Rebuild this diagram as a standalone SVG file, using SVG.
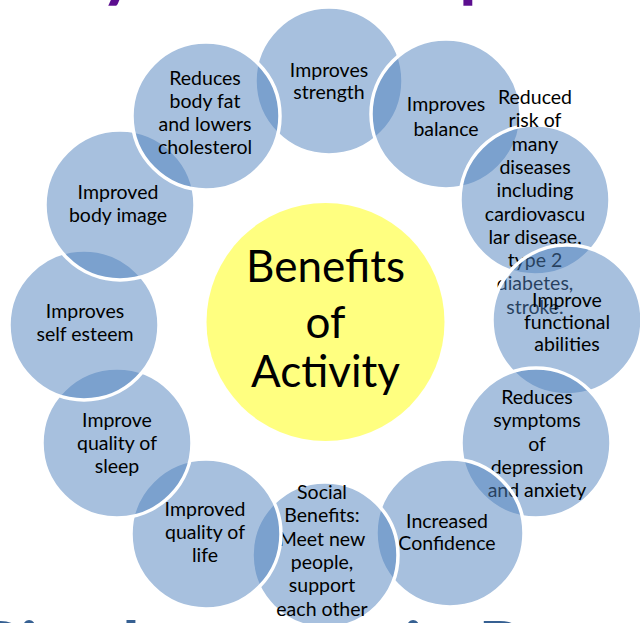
<svg xmlns="http://www.w3.org/2000/svg" width="640" height="623" viewBox="0 0 640 623">
<style>
.c{fill:#4F81BD;fill-opacity:0.5;stroke:#FFFFFF;stroke-width:3.5}
.t{font-family:Lato,"Liberation Sans",sans-serif;font-size:19.5px;fill:#000000;text-anchor:middle}
.hub{fill:#FFFF80}
.ht{font-family:Lato,"Liberation Sans",sans-serif;font-size:44px;fill:#000000;text-anchor:middle}
.top{font-family:Lato,"Liberation Sans",sans-serif;font-weight:bold;font-size:72px;fill:#5C0E8F}
.bot{font-family:Lato,"Liberation Sans",sans-serif;font-weight:bold;font-size:72px;fill:#366092}
</style>
<rect width="640" height="623" fill="#FFFFFF"/>
<text class="top"><tspan x="100" y="-7">y</tspan><tspan x="459" y="-7">p</tspan></text>
<g id="connectors"/>
<g id="n-strength"><circle class="c" cx="329" cy="81" r="74"/><text class="t"><tspan x="329" y="77">Improves</tspan><tspan x="329" y="99">strength</tspan></text></g>
<g id="n-balance"><circle class="c" cx="446" cy="114" r="75"/><text class="t"><tspan x="446" y="111">Improves</tspan><tspan x="446" y="136">balance</tspan></text></g>
<g id="n-risk"><circle class="c" cx="535" cy="200" r="75"/><text class="t"><tspan x="535" y="104">Reduced</tspan><tspan x="535" y="127.3">risk of</tspan><tspan x="535" y="150.6">many</tspan><tspan x="535" y="173.9">diseases</tspan><tspan x="535" y="197.2">including</tspan><tspan x="535" y="220.5">cardiovascu</tspan><tspan x="535" y="243.8">lar disease,</tspan><tspan x="535" y="267.1">type 2</tspan><tspan x="535" y="290.4">diabetes,</tspan><tspan x="535" y="313.7">stroke.</tspan></text></g>
<g id="n-functional"><circle class="c" cx="567" cy="320" r="75"/><text class="t"><tspan x="567" y="307">Improve</tspan><tspan x="567" y="329">functional</tspan><tspan x="567" y="351">abilities</tspan></text></g>
<g id="n-symptoms"><circle class="c" cx="536" cy="443" r="75"/><text class="t"><tspan x="537" y="404">Reduces</tspan><tspan x="537" y="427.3">symptoms</tspan><tspan x="537" y="450.6">of</tspan><tspan x="537" y="473.9">depression</tspan><tspan x="537" y="497.2">and anxiety</tspan></text></g>
<g id="n-confidence"><circle class="c" cx="450" cy="533" r="74"/><text class="t"><tspan x="447" y="528">Increased</tspan><tspan x="447" y="550">Confidence</tspan></text></g>
<g id="n-social"><circle class="c" cx="325" cy="555" r="73"/><text class="t"><tspan x="322" y="499">Social</tspan><tspan x="322" y="522.3">Benefits:</tspan><tspan x="322" y="545.6">Meet new</tspan><tspan x="322" y="568.9">people,</tspan><tspan x="322" y="592.2">support</tspan><tspan x="322" y="615.5">each other</tspan></text></g>
<g id="n-life"><circle class="c" cx="206" cy="534" r="75"/><text class="t"><tspan x="205" y="516">Improved</tspan><tspan x="205" y="539">quality of</tspan><tspan x="205" y="562">life</tspan></text></g>
<g id="n-sleep"><circle class="c" cx="117" cy="443" r="75"/><text class="t"><tspan x="117" y="427">Improve</tspan><tspan x="117" y="450">quality of</tspan><tspan x="117" y="473">sleep</tspan></text></g>
<g id="n-esteem"><circle class="c" cx="84" cy="325" r="75"/><text class="t"><tspan x="85" y="318">Improves</tspan><tspan x="85" y="341">self esteem</tspan></text></g>
<g id="n-image"><circle class="c" cx="120" cy="205" r="75"/><text class="t"><tspan x="118" y="199">Improved</tspan><tspan x="118" y="222">body image</tspan></text></g>
<g id="n-fat"><circle class="c" cx="206" cy="116" r="74"/><text class="t"><tspan x="205" y="85">Reduces</tspan><tspan x="205" y="108">body fat</tspan><tspan x="205" y="131">and lowers</tspan><tspan x="205" y="154">cholesterol</tspan></text></g>
<g id="n-hub"><circle class="hub" cx="325.5" cy="322" r="119"/><text class="ht"><tspan x="325.5" y="282">Benefits</tspan><tspan x="325.5" y="338">of</tspan><tspan x="325.5" y="387">Activity</tspan></text></g>
<text class="bot"><tspan x="-25" y="674">D</tspan><tspan x="20" y="674">i</tspan><tspan x="122" y="674">l</tspan><tspan x="380" y="674">t</tspan><tspan x="404" y="674">i</tspan><tspan x="478" y="674">R</tspan><tspan x="632" y="674">t</tspan></text>
</svg>
